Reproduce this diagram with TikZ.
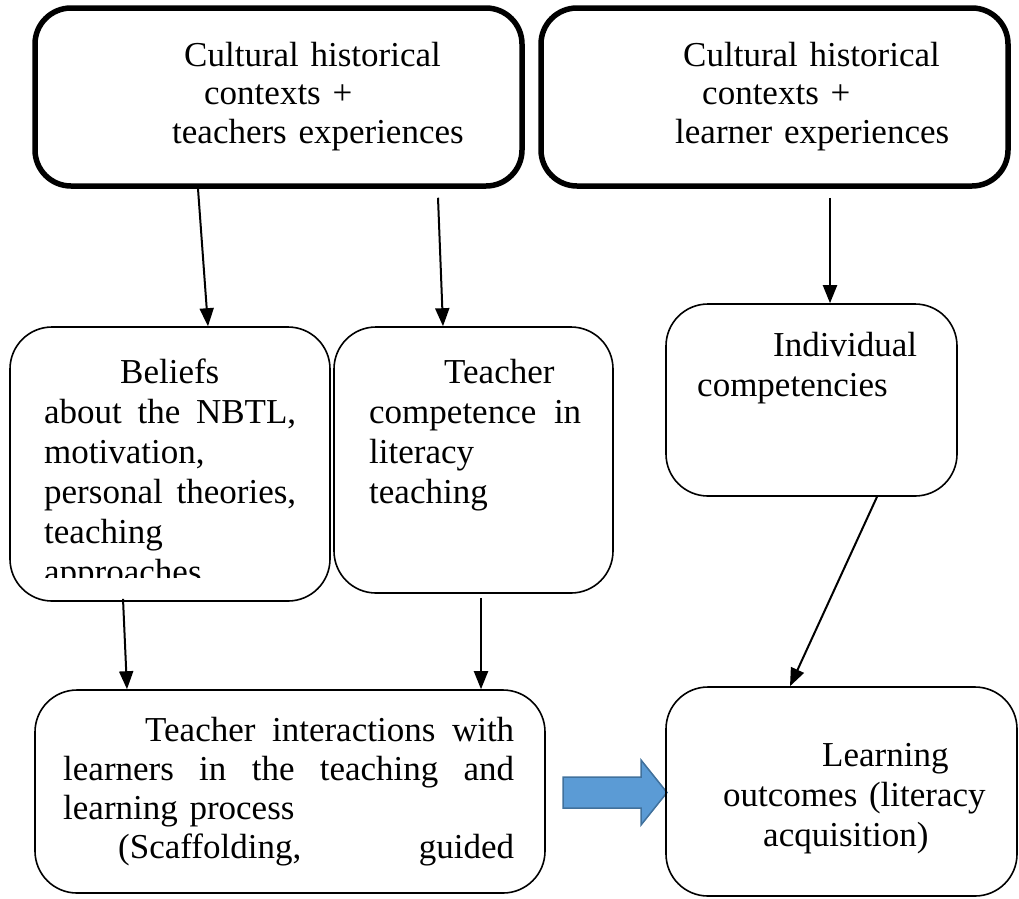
\documentclass[tikz,border=0pt]{standalone}
\usepackage{fontspec}
\setmainfont{Liberation Serif}
\usetikzlibrary{arrows.meta}
\definecolor{arrowFill}{RGB}{91, 155, 213}
\definecolor{arrowEdge}{RGB}{65, 113, 156}
% justified line of a given width
\newcommand{\spreadline}[2]{\makebox[#1][s]{\spaceskip=0.25em plus 1fil\relax #2}}

\begin{document}
\begin{tikzpicture}[x=1pt, y=-1pt,
    bigbox/.style={draw, line width=5.5pt, rounded corners=36pt},
    smallbox/.style={draw, line width=1.6pt, rounded corners=42pt},
    txt/.style={inner sep=0pt, anchor=base west, align=left, text width=#1,
      font=\fontsize{35}{40}\selectfont},
    link/.style={line width=2pt, -{Triangle[length=18pt,width=14pt]}},
    blockarrow/.style={fill=arrowFill, draw=arrowEdge, line width=1.5pt}]
  \useasboundingbox (0,0) rectangle (1019,898);

  % blue arrow between the two bottom boxes
  \draw[blockarrow] (563,777) -- (641,777) -- (641,760) -- (667,792.5)
    -- (641,825) -- (641,808) -- (563,808) -- cycle;

  % boxes
  \node[bigbox, minimum width=487pt, minimum height=178pt] (ctxT) at (278.5,97) {};
  \node[bigbox, minimum width=467pt, minimum height=178pt] (ctxL) at (774.5,97) {};
  \node[smallbox, minimum width=320pt, minimum height=274pt] (beliefs) at (170,464) {};
  \node[smallbox, minimum width=279pt, minimum height=266pt] (compet) at (473.5,460) {};
  \node[smallbox, minimum width=291pt, minimum height=192pt] (indiv) at (811.5,400) {};
  \node[smallbox, minimum width=510pt, minimum height=203pt] (interact) at (290,791.5) {};
  \node[smallbox, minimum width=351pt, minimum height=209pt] (outcome) at (841.5,791.5) {};

  % texts
  \node[txt=330pt, font=\fontsize{35}{38.5}\selectfont] (ctxTtext) at (172,66)
    {\hspace*{12pt}Cultural historical\\ \hspace*{32pt}contexts +\\ teachers experiences};
  \node[txt=320pt, font=\fontsize{35}{38.5}\selectfont] (ctxLtext) at (675,66)
    {\hspace*{8pt}Cultural historical\\ \hspace*{27pt}contexts +\\ learner experiences};
  \begin{scope}
    \clip (beliefs.north west) rectangle ([yshift=24pt]beliefs.south east);
    \node[txt=260pt] (beliefstext) at (44,383)
      {\hspace*{76pt}Beliefs\\ \spreadline{252pt}{about the NBTL,}\\ motivation,\\
       \spreadline{252pt}{personal theories,}\\ teaching\\ approaches};
  \end{scope}
  \node[txt=230pt] (comptext) at (369,383)
    {\hspace*{75pt}Teacher\\ \spreadline{212pt}{competence in}\\ literacy\\ teaching};
  \node[txt=240pt] (indivtext) at (697,356)
    {\hspace*{76pt}Individual\\ competencies};
  \node[txt=455pt, font=\fontsize{35}{39}\selectfont] (interacttext) at (63,741)
    {\hspace*{82pt}\spreadline{369pt}{Teacher interactions with}\\
     \spreadline{451pt}{learners in the teaching and}\\ learning process\\
     \hspace*{55pt}\spreadline{396pt}{(Scaffolding, guided}};
  \node[txt=280pt] (outcometext) at (723,766)
    {\hspace*{99pt}Learning\\ outcomes (literacy\\ \hspace*{40pt}acquisition)};

  % connectors
  \draw[link] ([xshift=-80.5pt]ctxT.south) -- ([xshift=38pt]beliefs.north);
  \draw[link] ([xshift=159.5pt,yshift=-9pt]ctxT.south) -- ([xshift=-30.5pt]compet.north);
  \draw[link] ([xshift=55.5pt,yshift=-9pt]ctxL.south) -- ([xshift=18.5pt]indiv.north);
  \draw[link] ([xshift=-47pt,yshift=3pt]beliefs.south) -- ([xshift=-163pt]interact.north);
  \draw[link] ([xshift=7.5pt,yshift=-4pt]compet.south) -- ([xshift=191pt]interact.north);
  \draw[link] ([xshift=65.5pt]indiv.south) -- ([xshift=-51.5pt]outcome.north);
\end{tikzpicture}
\end{document}
